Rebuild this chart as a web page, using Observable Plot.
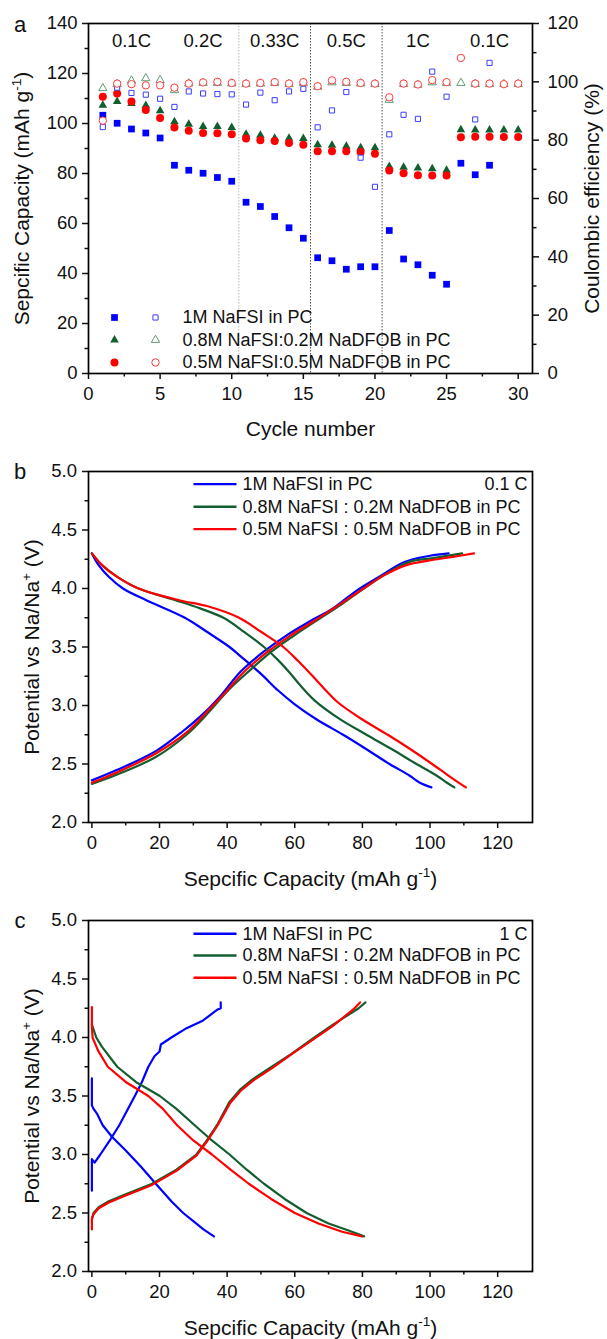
<!DOCTYPE html>
<html>
<head>
<meta charset="utf-8">
<script src="https://cdn.jsdelivr.net/npm/d3@7"></script>
<script src="https://cdn.jsdelivr.net/npm/@observablehq/plot@0.6"></script>
<style>
html,body{margin:0;padding:0;background:#fff;}
#wrap{width:607px;}
#wrap svg{display:block;}
</style>
</head>
<body>
<div id="wrap"></div>
<script>
// ---------------- data ----------------
const seriesA  = ["1M NaFSI in PC", "0.8M NaFSI:0.2M NaDFOB in PC", "0.5M NaFSI:0.5M NaDFOB in PC"];
const seriesBC = ["1M NaFSI in PC", "0.8M NaFSI : 0.2M NaDFOB in PC", "0.5M NaFSI : 0.5M NaDFOB in PC"];

const cycle = [1,2,3,4,5,6,7,8,9,10,11,12,13,14,15,16,17,18,19,20,21,22,23,24,25,26,27,28,29,30];
const rateNames = ["0.1C","0.2C","0.33C","0.5C","1C","0.1C"];
const rateStart = [1,6,11,16,21,26];
const rateEnd   = [5,10,15,20,25,30];

// specific capacity (mAh g-1), left axis
const cap1M   = [103.3,100.1,97.8,96.2,94.2,83.3,81.3,80.1,78.4,76.9,68.5,66.8,62.8,58.3,54.1,46.3,45.1,41.7,42.7,42.7,57.2,45.8,43.5,39.3,35.7,84.1,79.5,83.3,null,null];
const capMix82 = [107.3,108.8,108.0,107.2,105.1,100.7,99.7,98.8,98.8,98.4,95.7,95.3,94.1,94.1,94.0,91.5,91.3,90.9,90.3,90.3,82.8,82.5,82.2,81.9,81.3,97.5,97.4,97.4,97.4,97.4];
const capMix55 = [110.7,112.0,108.8,105.4,102.2,98.4,97.1,96.2,96.1,95.7,94.0,93.3,93.0,92.2,91.5,88.9,88.9,88.9,88.6,87.9,81.2,80.1,79.3,79.2,79.2,94.5,94.7,94.7,94.6,94.6];

// coulombic efficiency (%), right axis
const ce1M   = [84.5,98.0,96.2,95.6,94.2,91.4,96.7,96.0,95.8,95.7,92.2,96.3,93.7,96.7,97.6,84.4,90.2,96.5,74.0,64.0,82.0,88.7,87.3,103.5,94.9,null,87.1,106.5,null,null];
const ceMix82 = [97.8,99.2,100.4,101.2,100.6,97.1,99.4,99.6,99.6,99.4,99.2,99.4,99.6,99.2,99.6,98.3,99.8,99.6,99.4,99.2,93.8,99.2,99.0,99.8,99.6,99.6,99.2,99.2,99.2,99.2];
const ceMix55 = [86.7,99.4,99.2,98.8,98.8,98.0,99.4,99.8,100.0,99.6,99.4,99.6,99.9,99.4,99.9,98.5,100.5,100.0,99.6,99.4,94.7,99.4,99.1,100.6,99.9,108.2,99.4,99.4,99.2,99.4];

// panel b : 0.1 C discharge / charge (capacity mAh g-1, potential V)
const b1M_disQ = [0,2,5,9.2,16.1,27.5,34,40.7,44,50,55,60,66.5,74.3,81,88,94,97,100.4];
const b1M_disV = [4.30,4.20,4.10,4.00,3.90,3.75,3.63,3.50,3.42,3.27,3.13,3.01,2.88,2.75,2.63,2.50,2.40,2.34,2.30];
const b82_disQ = [0,3,7.5,13.8,24.7,32,38.9,45,50.9,55,58.5,62,66,73,81.2,88.5,96,102,105,107.2];
const b82_disV = [4.30,4.20,4.10,4.00,3.90,3.83,3.75,3.63,3.50,3.39,3.28,3.16,3.04,2.89,2.75,2.63,2.50,2.40,2.34,2.30];
const b55_disQ = [0,3,7.5,13.8,25.8,34,43.5,50,56.6,61,65,68.5,72.6,80,87.5,94,100.6,105,108,110.6];
const b55_disV = [4.30,4.20,4.10,4.00,3.90,3.85,3.75,3.63,3.50,3.38,3.26,3.15,3.03,2.88,2.75,2.63,2.50,2.41,2.35,2.30];
const b1M_chQ = [0,7.5,18.9,26.9,33.7,38.3,44,50.8,57.6,64.5,71.3,78.2,85,91.9,96.4,100,105.5];
const b1M_chV = [2.36,2.45,2.61,2.78,2.95,3.09,3.29,3.46,3.60,3.72,3.83,3.98,4.10,4.22,4.26,4.28,4.30];
const b82_chQ = [0,7.5,18.9,28,34.8,40,46.3,53.1,59.9,66.7,73.6,80.4,87.3,94.1,100.9,109.5];
const b82_chV = [2.33,2.41,2.56,2.75,2.95,3.12,3.29,3.46,3.60,3.73,3.86,4.00,4.13,4.23,4.26,4.30];
const b55_chQ = [0,7.5,18.9,28,34.8,39.4,45.1,52,58.8,65.6,72.5,79.3,86.2,93,99.8,106.7,113];
const b55_chV = [2.34,2.43,2.59,2.77,2.97,3.11,3.29,3.46,3.60,3.72,3.85,3.98,4.11,4.20,4.24,4.27,4.30];

// panel c : 1 C discharge / charge
const c1M_disQ = [0,0,0.5,1.5,3.2,6,9.8,14.4,18.9,23.5,27,30,33,36.1];
const c1M_disV = [3.65,3.42,3.39,3.35,3.25,3.15,3.04,2.90,2.75,2.60,2.50,2.43,2.36,2.30];
const c82_disQ = [0,1.3,3,7.5,13,20.1,25,30.4,35.5,40.7,45.8,50.9,57,63.5,70,75.9,80.5];
const c82_disV = [4.11,4.00,3.92,3.75,3.62,3.50,3.39,3.25,3.12,3.00,2.87,2.75,2.62,2.50,2.41,2.35,2.30];
const c55_disQ = [0,0,0.2,1.8,4.7,10,16.7,21,25.2,30,35.5,41,46.4,53,60,67,74,79.9];
const c55_disV = [4.26,4.10,4.00,3.89,3.75,3.62,3.50,3.39,3.25,3.12,3.00,2.87,2.75,2.62,2.50,2.41,2.34,2.30];
const c1M_chQ = [0,0,0.8,2.5,5.5,8.1,10.5,12.7,14.8,16.7,18.5,20,20.4,23.5,28,32.6,37.2,38.1,38.1];
const c1M_chV = [2.69,2.96,2.93,3.00,3.13,3.25,3.38,3.50,3.62,3.75,3.84,3.88,3.94,4.00,4.08,4.14,4.24,4.25,4.30];
const c82_chQ = [0,0.5,2,5,10,17.8,25,30.9,34,37.2,40.7,44,47.4,53.2,59,65.8,71.3,78.9,80.9];
const c82_chV = [2.45,2.50,2.55,2.60,2.66,2.75,2.87,3.00,3.12,3.26,3.45,3.56,3.64,3.75,3.86,4.00,4.11,4.25,4.30];
const c55_chQ = [0,0,0.5,2,5,10,17.8,25,30.9,34,37.2,40.9,44.2,47.6,53.4,59.2,65.8,71.3,77.3,79.3];
const c55_chV = [2.36,2.45,2.49,2.54,2.59,2.65,2.74,2.86,2.99,3.11,3.25,3.44,3.55,3.63,3.74,3.86,3.99,4.10,4.24,4.30];

// ---------------- style ----------------
const FONT = "'Liberation Sans', Arial, Helvetica, sans-serif";
const fillColors = ["#0000ff", "#125e2e", "#ff0000"];
const openColors = ["#3c3cff", "#5e9c72", "#ff3a3a"];
const symbols = ["square", "triangle", "circle"];
const rFilled = [3.8, 3.2, 4.0];
const rOpen = [2.9, 3.1, 3.7];
const K = 140 / 120;           // CE axis (0-120) mapped onto capacity axis (0-140)
const TICK_W = 1.5, FRAME_W = 1.7;

function pts(xs, ys, k = 1) {
  const out = [];
  xs.forEach((x, i) => { if (ys[i] != null) out.push({x, y: ys[i] * k}); });
  return out;
}
function curve(qs, vs) { return qs.map((q, i) => ({x: q, y: vs[i]})); }

function supify(svg) {
  const ns = "http://www.w3.org/2000/svg";
  svg.querySelectorAll("text").forEach(t => {
    const s = t.textContent;
    const m = s.match(/^(.*)\^\{(.*?)\}(.*)$/);
    if (!m || t.children.length) return;
    const fs = parseFloat(t.getAttribute("font-size")) || 20;
    t.textContent = "";
    const a = document.createElementNS(ns, "tspan"); a.textContent = m[1]; t.appendChild(a);
    const b = document.createElementNS(ns, "tspan"); b.textContent = m[2];
    b.setAttribute("font-size", (fs * 0.68).toFixed(1)); b.setAttribute("dy", (-fs * 0.42).toFixed(1)); t.appendChild(b);
    const c = document.createElementNS(ns, "tspan"); c.textContent = m[3];
    c.setAttribute("dy", (fs * 0.42).toFixed(1)); t.appendChild(c);
  });
}

const wrap = document.getElementById("wrap");

// ---------------- panel a ----------------
{
  const capSeries = [cap1M, capMix82, capMix55];
  const ceSeries = [ce1M, ceMix82, ceMix55];
  const bounds = rateEnd.slice(1, 4).map(e => e + 0.5);
  const mids = rateStart.map((s, i) => (s + rateEnd[i]) / 2);
  const marks = [
    Plot.ruleX(bounds.slice(0, 1), {stroke: "#b5b5b5", strokeWidth: 1, strokeDasharray: "1.5,1.5"}),
    Plot.ruleX(bounds.slice(1), {stroke: "#555", strokeWidth: 1, strokeDasharray: "1.5,1.5"}),
    Plot.axisY(d3.range(0, 141, 20), {tickSize: 6, tickPadding: 5, label: null, strokeWidth: TICK_W}),
    Plot.axisY(d3.range(10, 140, 20), {tickSize: 3.5, tickFormat: () => "", label: null, strokeWidth: TICK_W}),
    Plot.axisY(d3.range(0, 121, 20).map(v => v * K), {anchor: "right", tickSize: 6, tickPadding: 9, tickFormat: d => Math.round(d / K), label: null, strokeWidth: TICK_W}),
    Plot.axisY(d3.range(10, 120, 20).map(v => v * K), {anchor: "right", tickSize: 3.5, tickFormat: () => "", label: null, strokeWidth: TICK_W}),
    Plot.axisX(d3.range(0, 31, 5), {tickSize: 6, tickPadding: 7, label: null, strokeWidth: TICK_W}),
    Plot.axisX(d3.range(2.5, 31, 5), {tickSize: 3.5, tickFormat: () => "", label: null, strokeWidth: TICK_W}),
  ];
  [0, 1, 2].forEach(i => {
    marks.push(Plot.dot(pts(cycle, capSeries[i]), {x: "x", y: "y", symbol: symbols[i], r: rFilled[i], fill: fillColors[i]}));
  });
  [0, 1, 2].forEach(i => {
    marks.push(Plot.dot(pts(cycle, ceSeries[i], K), {x: "x", y: "y", symbol: symbols[i], r: rOpen[i], stroke: openColors[i], strokeWidth: 1, fill: "white"}));
  });
  marks.push(Plot.frame({stroke: "#000", strokeWidth: FRAME_W}));
  marks.push(Plot.text(rateNames, {text: d => d, x: (d, i) => mids[i], frameAnchor: "top", dy: 17.5, fontSize: 18.5, textAnchor: "middle", lineAnchor: "middle"}));
  // legend
  seriesA.forEach((name, i) => {
    const dy = -56 + i * 22.5;
    marks.push(Plot.dot([name], {frameAnchor: "bottom-left", dx: 26, dy, symbol: symbols[i], r: rFilled[i], fill: fillColors[i]}));
    marks.push(Plot.dot([name], {frameAnchor: "bottom-left", dx: 67, dy, symbol: symbols[i], r: rOpen[i], stroke: openColors[i], strokeWidth: 1, fill: "white"}));
    marks.push(Plot.text([name], {text: d => d, frameAnchor: "bottom-left", dx: 94, dy, textAnchor: "start", lineAnchor: "middle", fontSize: 18}));
  });
  // titles
  marks.push(Plot.text(["Sepcific Capacity (mAh g^{-1})"], {text: d => d, frameAnchor: "left", dx: -66, rotate: -90, fontSize: 21, textAnchor: "middle", lineAnchor: "middle"}));
  marks.push(Plot.text(["Coulombic efficiency (%)"], {text: d => d, frameAnchor: "right", dx: 60, rotate: -90, fontSize: 21, textAnchor: "middle", lineAnchor: "middle"}));
  marks.push(Plot.text(["Cycle number"], {text: d => d, frameAnchor: "bottom", dy: 55.5, fontSize: 21, textAnchor: "middle", lineAnchor: "middle"}));
  marks.push(Plot.text(["a"], {text: d => d, frameAnchor: "top-left", dx: -68.5, dy: 1, fontSize: 22, textAnchor: "middle", lineAnchor: "middle"}));

  const p = Plot.plot({
    width: 607, height: 445,
    marginLeft: 88, marginRight: 75, marginTop: 23, marginBottom: 72,
    style: {fontFamily: FONT, fontSize: "18.5px", color: "#111", background: "white", overflow: "visible"},
    x: {domain: [0, 31]},
    y: {domain: [0, 140]},
    marks
  });
  supify(p);
  wrap.appendChild(p);
}

// ---------------- panels b & c ----------------
function panel(curves, rateLabel, letter, height, marginTop, marginBottom, rows, curveType) {
  const marks = [
    Plot.axisX(d3.range(0, 121, 20), {tickSize: 6, tickPadding: 7, label: null, strokeWidth: TICK_W}),
    Plot.axisX(d3.range(10, 121, 20), {tickSize: 3.5, tickFormat: () => "", label: null, strokeWidth: TICK_W}),
    Plot.axisY(d3.range(2, 5.01, 0.5), {tickSize: 6, tickPadding: 5.5, tickFormat: d3.format(".1f"), label: null, strokeWidth: TICK_W}),
    Plot.axisY(d3.range(2.25, 5, 0.5), {tickSize: 3.5, tickFormat: () => "", label: null, strokeWidth: TICK_W}),
  ];
  curves.forEach((pair, i) => {
    pair.forEach(c => marks.push(Plot.line(c, {x: "x", y: "y", stroke: fillColors[i], strokeWidth: 2.2, curve: curveType, strokeLinejoin: "round"})));
  });
  marks.push(Plot.frame({stroke: "#000", strokeWidth: FRAME_W}));
  const lineSym = {draw(ctx) { ctx.moveTo(-21.5, 0); ctx.lineTo(21.5, 0); }};
  seriesBC.forEach((name, i) => {
    marks.push(Plot.dot([name], {frameAnchor: "top-left", dx: 126.5, dy: rows[i], symbol: lineSym, stroke: fillColors[i], strokeWidth: 2.4, r: 5}));
    marks.push(Plot.text([name], {text: d => d, frameAnchor: "top-left", dx: 154, dy: rows[i], textAnchor: "start", lineAnchor: "middle", fontSize: 18}));
  });
  marks.push(Plot.text([rateLabel], {text: d => d, frameAnchor: "top-right", dx: -5, dy: rows[0], textAnchor: "end", lineAnchor: "middle", fontSize: 18}));
  marks.push(Plot.text(["Potential vs Na/Na^{+} (V)"], {text: d => d, frameAnchor: "left", dx: -56, rotate: -90, fontSize: 21, textAnchor: "middle", lineAnchor: "middle"}));
  marks.push(Plot.text(["Sepcific Capacity (mAh g^{-1})"], {text: d => d, frameAnchor: "bottom", dy: 56.3, fontSize: 21, textAnchor: "middle", lineAnchor: "middle"}));
  marks.push(Plot.text([letter], {text: d => d, frameAnchor: "top-left", dx: -68.5, dy: 0, fontSize: 22, textAnchor: "middle", lineAnchor: "middle"}));
  const p = Plot.plot({
    width: 607, height,
    marginLeft: 88, marginRight: 75, marginTop, marginBottom,
    style: {fontFamily: FONT, fontSize: "18.5px", color: "#111", background: "white", overflow: "visible"},
    x: {domain: [-1, 130.3]},
    y: {domain: [2, 5]},
    marks
  });
  supify(p);
  wrap.appendChild(p);
}

panel([
  [curve(b1M_disQ, b1M_disV), curve(b1M_chQ, b1M_chV)],
  [curve(b82_disQ, b82_disV), curve(b82_chQ, b82_chV)],
  [curve(b55_disQ, b55_disV), curve(b55_chQ, b55_chV)]
], "0.1 C", "b", 447, 26, 70, [12.6, 35.3, 57.6], "catmull-rom");

panel([
  [curve(c1M_disQ, c1M_disV), curve(c1M_chQ, c1M_chV)],
  [curve(c82_disQ, c82_disV), curve(c82_chQ, c82_chV)],
  [curve(c55_disQ, c55_disV), curve(c55_chQ, c55_chV)]
], "1 C", "c", 447, 28, 68, [13.3, 35, 57.3], "linear");
</script>
</body>
</html>
